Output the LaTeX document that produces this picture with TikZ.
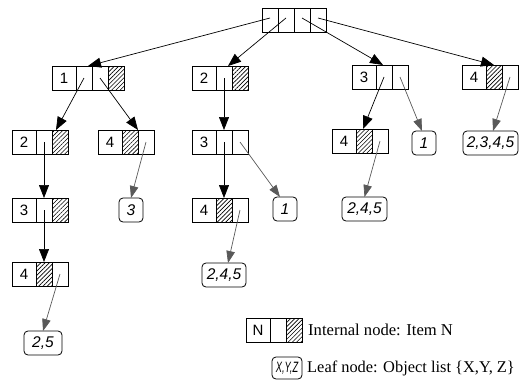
\documentclass[tikz,border=0pt]{standalone}
\usepackage{fontspec}
\setmainfont{Liberation Serif}
\newfontfamily\arialf{Liberation Sans}
\usetikzlibrary{patterns.meta,arrows.meta,calc}

\definecolor{linkgray}{gray}{0.35}

\tikzset{
  cell/.style={draw=black, line width=0.8pt, anchor=north west, inner sep=0pt, outer sep=0pt,
    minimum height=24pt, minimum width=16pt, font=\arialf\fontsize{15}{15}\selectfont},
  numcell/.style={cell, minimum width=24pt},
  hatched/.style={cell, pattern={Lines[angle=45, distance=3pt, line width=0.6pt]}},
  leaf/.style={draw=black, line width=0.8pt, rounded corners=4pt, anchor=north west,
    inner sep=0pt, outer sep=0pt, minimum height=24pt,
    font=\arialf\itshape\fontsize{15.5}{15.5}\selectfont},
  inlink/.style={draw=black, line width=0.7pt, -{Triangle[length=13pt,width=10pt]}},
  leaflink/.style={draw=linkgray, line width=0.7pt, -{Triangle[length=12pt,width=8.5pt]}},
}

% internal node: number cell followed by two cells (#5, #6 give their styles)
\newcommand\tripcell[6]{%
  \node[numcell] (#1a) at (#2,#3) {#4};
  \node[#5] (#1b) at (#1a.north east) {};
  \node[#6] (#1c) at (#1b.north east) {};
}

\begin{document}
\begin{tikzpicture}[x=1pt, y=-1pt]
\useasboundingbox (0,0) rectangle (520,380);

% root
\node[cell] (r1) at (262,8) {};
\node[cell] (r2) at (r1.north east) {};
\node[cell] (r3) at (r2.north east) {};
\node[cell] (r4) at (r3.north east) {};

% first level
\node[numcell] (n1a) at (52,66) {1};
\node[cell] (n1b) at (n1a.north east) {};
\node[cell] (n1c) at (n1b.north east) {};
\node[hatched] (n1d) at (n1c.north east) {};
\tripcell{n2}{192}{66}{2}{cell}{hatched}
\tripcell{n3}{352}{65}{3}{cell}{cell}
\tripcell{n4}{462}{65}{4}{hatched}{cell}

% second level
\tripcell{m1}{12}{130}{2}{cell}{hatched}
\tripcell{m2}{98}{130}{4}{hatched}{cell}
\tripcell{m3}{192}{130}{3}{cell}{cell}
\tripcell{m4}{332}{129}{4}{hatched}{cell}
\node[leaf, minimum width=24pt] (f1c) at (412,131) {1};
\node[leaf, minimum width=55pt] (f2345) at (463,131) {2,3,4,5};

% third level
\tripcell{k1}{12}{198}{3}{cell}{hatched}
\node[leaf, minimum width=24pt] (f3) at (119,198) {3};
\tripcell{k3}{192}{198}{4}{hatched}{cell}
\node[leaf, minimum width=24pt] (f1b) at (273,197) {1};
\node[leaf, minimum width=45pt] (f245c) at (342,197) {2,4,5};

% fourth and fifth level
\tripcell{j1}{12}{262}{4}{hatched}{cell}
\node[leaf, minimum width=44pt] (f245b) at (202,263) {2,4,5};
\node[leaf, minimum width=38pt] (f25) at (24,331) {2,5};

% links to internal nodes
\draw[inlink] ([yshift=2pt]r1.center) -- ($(n1b.north west)+(12,0)$);
\draw[inlink] ([yshift=2pt]r2.center) -- ($(n2b.north west)+(12,0)$);
\draw[inlink] ([yshift=2pt]r3.center) -- ($(n3b.north west)+(7,0)$);
\draw[inlink] ([yshift=2pt]r4.center) -- ($(n4b.north west)+(8,0)$);
\draw[inlink] (n1b.center) -- ($(m1c.north west)+(4,0)$);
\draw[inlink] (n1c.center) -- ($(m2b.north west)+(16,0)$);
\draw[inlink] (n2b.center) -- (m3b.north);
\draw[inlink] (n3b.center) -- ($(m4b.north west)+(7,0)$);
\draw[inlink] (m1b.center) -- (k1b.north);
\draw[inlink] (m3b.center) -- (k3b.north);
\draw[inlink] (k1b.center) -- (j1b.north);

% links to leaves
\draw[leaflink] (n3c.center) -- ($(f1c.north)+(-2,0)$);
\draw[leaflink] (n4c.center) -- ($(f2345.north west)+(30,0)$);
\draw[leaflink] (m2c.center) -- (f3.north);
\draw[leaflink] (m3c.center) -- ($(f1b.north west)+(7,0)$);
\draw[leaflink] (m4c.center) -- (f245c.north);
\draw[leaflink] (k3c.center) -- ($(f245b.north west)+(26,0)$);
\draw[leaflink] (j1c.center) -- (f25.north);

% legend
\tripcell{lg}{246}{318}{N}{cell}{hatched}
\node[anchor=west, inner sep=0pt, font=\fontsize{16.6}{16.6}\selectfont] (lgtext)
  at ([xshift=6pt]lgc.east) {Internal node: Item N};
\node[leaf, minimum width=30pt, minimum height=22pt, font=\arialf\itshape\fontsize{15}{15}\selectfont]
  (lgleaf) at (272,357) {\scalebox{0.62}[1]{X,Y,Z}};
\node[anchor=west, inner sep=0pt, font=\fontsize{16.4}{16.4}\selectfont] (lgleaftext)
  at ([xshift=5pt]lgleaf.east) {Leaf node: Object list \{X,Y, Z\}};
\end{tikzpicture}
\end{document}
